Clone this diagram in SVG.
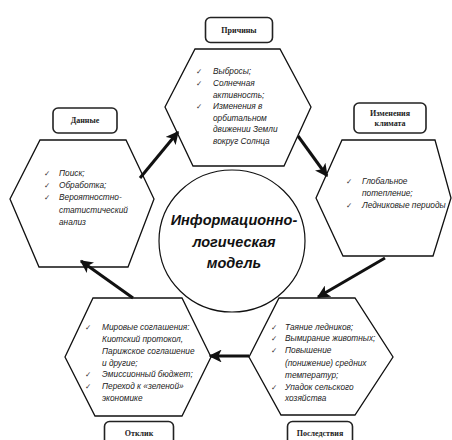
<svg xmlns="http://www.w3.org/2000/svg" width="452" height="440" viewBox="0 0 452 440">
  <style>
    .hex { fill: #fff; stroke: #111; stroke-width: 1.3; }
    .lbl { fill: #fff; stroke: #222; stroke-width: 1.6; }
    .lt { font-family: "Liberation Serif", serif; font-weight: bold; font-size: 8px; fill: #222; text-anchor: middle; }
    .it { font-family: "Liberation Sans", sans-serif; font-style: italic; font-size: 8.3px; fill: #222; }
    .ck { font-family: "DejaVu Sans", sans-serif; font-size: 7.5px; fill: #333; }
    .core { font-family: "Liberation Sans", sans-serif; font-style: italic; font-weight: bold; font-size: 14.5px; fill: #111; text-anchor: middle; }
    .conn line { stroke: #111; stroke-width: 3; marker-end: url(#head); }
  </style>
  <defs>
    <marker id="head" viewBox="0 0 10 10" refX="9" refY="5" markerWidth="4.3" markerHeight="4.3" orient="auto" markerUnits="strokeWidth">
      <path d="M0,0 L10,5 L0,10 L2.5,5 Z" fill="#111"/>
    </marker>
  </defs>
  <rect width="452" height="440" fill="#fff"/>

  <!-- centre -->
  <g id="model">
    <ellipse cx="232" cy="241" rx="73" ry="71" fill="#fff" stroke="#111" stroke-width="1.2"/>
    <text class="core" x="234" y="225">Информационно-</text>
    <text class="core" x="234" y="247">логическая</text>
    <text class="core" x="234" y="268">модель</text>
  </g>

  <!-- causes -->
  <g id="causes">
    <rect class="lbl" x="205.5" y="17.5" width="67" height="25" rx="5"/>
    <text class="lt" x="239" y="33">Причины</text>
    <polygon class="hex" points="195,49 280,49 311,107 284,166 193,166 165,107"/>
    <text class="ck" x="196" y="74">✓</text>
    <text class="ck" x="196" y="86">✓</text>
    <text class="ck" x="196" y="109">✓</text>
    <text class="it" x="213" y="74">Выбросы;</text>
    <text class="it" x="213" y="86">Солнечная</text>
    <text class="it" x="213" y="97.5">активность;</text>
    <text class="it" x="213" y="109">Изменения в</text>
    <text class="it" x="213" y="120.5">орбитальном</text>
    <text class="it" x="213" y="132">движении Земли</text>
    <text class="it" x="213" y="143.5">вокруг Солнца</text>
  </g>

  <!-- climate change -->
  <g id="climate">
    <rect class="lbl" x="354" y="103" width="72" height="30" rx="5"/>
    <text class="lt" x="390" y="116">Изменения</text>
    <text class="lt" x="390" y="126">климата</text>
    <polygon class="hex" points="342,140 435,140 451,198 433,256 343,256 316,198"/>
    <text class="ck" x="346" y="184">✓</text>
    <text class="ck" x="346" y="208">✓</text>
    <text class="it" x="362" y="184">Глобальное</text>
    <text class="it" x="362" y="196">потепление;</text>
    <text class="it" x="362" y="208">Ледниковые периоды</text>
  </g>

  <!-- data -->
  <g id="data">
    <rect class="lbl" x="53" y="108" width="64" height="25" rx="5"/>
    <text class="lt" x="85" y="123">Данные</text>
    <polygon class="hex" points="40,140 126,140 154,199 128,267 39,267 10,199"/>
    <text class="ck" x="44" y="176">✓</text>
    <text class="ck" x="44" y="188">✓</text>
    <text class="ck" x="44" y="200">✓</text>
    <text class="it" x="59" y="176">Поиск;</text>
    <text class="it" x="59" y="188">Обработка;</text>
    <text class="it" x="59" y="200">Вероятностно-</text>
    <text class="it" x="59" y="212.5">статистический</text>
    <text class="it" x="59" y="225">анализ</text>
  </g>

  <!-- response -->
  <g id="response">
    <polygon class="hex" points="93,298 182,298 211,357 182,416 95,416 65,357"/>
    <text class="ck" x="85" y="330">✓</text>
    <text class="ck" x="85" y="377">✓</text>
    <text class="ck" x="85" y="389">✓</text>
    <text class="it" x="102" y="330">Мировые соглашения:</text>
    <text class="it" x="102" y="342">Киотский протокол,</text>
    <text class="it" x="102" y="354">Парижское соглашение</text>
    <text class="it" x="102" y="366">и другие;</text>
    <text class="it" x="102" y="377">Эмиссионный бюджет;</text>
    <text class="it" x="102" y="389">Переход к «зеленой»</text>
    <text class="it" x="102" y="401">экономике</text>
    <rect class="lbl" x="104.5" y="421.5" width="69" height="30" rx="5"/>
    <text class="lt" x="139" y="436">Отклик</text>
  </g>

  <!-- consequences -->
  <g id="consequences">
    <polygon class="hex" points="279,298 355,298 393,357 355,415 281,415 249,357"/>
    <text class="ck" x="271" y="330">✓</text>
    <text class="ck" x="271" y="341">✓</text>
    <text class="ck" x="271" y="353">✓</text>
    <text class="ck" x="271" y="390">✓</text>
    <text class="it" x="285" y="330">Таяние ледников;</text>
    <text class="it" x="285" y="341">Вымирание животных;</text>
    <text class="it" x="285" y="353">Повышение</text>
    <text class="it" x="285" y="366">(понижение) средних</text>
    <text class="it" x="285" y="377.5">температур;</text>
    <text class="it" x="285" y="390">Упадок сельского</text>
    <text class="it" x="285" y="401">хозяйства</text>
    <rect class="lbl" x="287.5" y="421.5" width="65" height="30" rx="5"/>
    <text class="lt" x="320" y="436">Последствия</text>
  </g>

  <!-- cycle arrows -->
  <g id="connectors" class="conn">
    <line x1="140" y1="178" x2="178" y2="132"/>
    <line x1="298" y1="136" x2="327" y2="176"/>
    <line x1="385" y1="258" x2="318" y2="297"/>
    <line x1="249" y1="356" x2="210" y2="356"/>
    <line x1="133" y1="298" x2="81" y2="261"/>
  </g>
</svg>
